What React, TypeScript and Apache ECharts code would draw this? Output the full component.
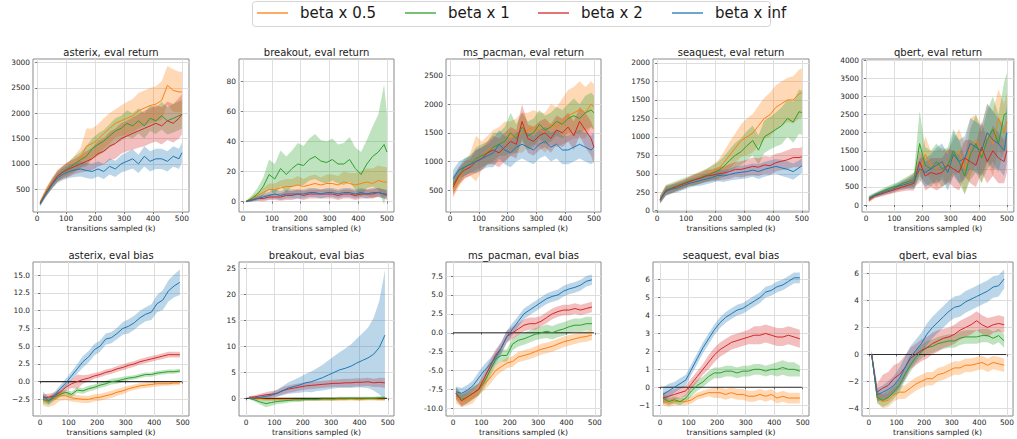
import React, { useEffect, useRef } from "react";
import * as echarts from "echarts";

// ---------- data ----------
const SERIES_NAMES = ["beta x 0.5", "beta x 1", "beta x 2", "beta x inf"];
const COLORS = ["#ff7f0e", "#2ca02c", "#d62728", "#1f77b4"];

const X_TOP = [10, 30, 50, 70, 90, 110, 130, 150, 170, 190, 210, 230, 250, 270, 290, 310, 330, 350, 370, 390, 410, 430, 450, 470, 490, 500];
const X_BOT = [10, 30, 50, 70, 90, 110, 130, 150, 170, 190, 210, 230, 250, 270, 290, 310, 330, 350, 370, 390, 410, 430, 450, 470, 490];
const X_TICKS = [0, 100, 200, 300, 400, 500];

// asterix, eval return  (orange, green, red, blue)
const asterixRetMean = [
  [230, 450, 620, 760, 840, 900, 1000, 1120, 1350, 1400, 1480, 1600, 1700, 1800, 1850, 1900, 1950, 2050, 2100, 2150, 2180, 2250, 2550, 2450, 2420, 2420],
  [230, 430, 600, 750, 850, 920, 1000, 1080, 1150, 1300, 1380, 1450, 1550, 1650, 1700, 1800, 1750, 1850, 1750, 1900, 1850, 1950, 1850, 1900, 1950, 1980],
  [220, 420, 600, 760, 840, 900, 950, 1000, 1050, 1100, 1200, 1250, 1350, 1400, 1500, 1550, 1600, 1650, 1700, 1750, 1800, 1750, 1850, 1800, 1900, 1980],
  [200, 400, 580, 720, 800, 850, 880, 900, 870, 850, 900, 850, 950, 900, 1000, 1050, 1100, 1000, 1150, 1050, 1100, 1100, 1050, 1150, 1100, 1220],
];
const asterixRetSpread = [
  [50, 80, 100, 120, 130, 150, 170, 200, 350, 300, 300, 300, 300, 280, 300, 320, 330, 350, 350, 350, 350, 380, 380, 420, 400, 400],
  [40, 70, 90, 100, 110, 120, 150, 150, 200, 200, 220, 220, 230, 250, 250, 260, 250, 250, 250, 250, 260, 270, 270, 280, 280, 280],
  [40, 70, 90, 110, 130, 150, 150, 170, 200, 220, 250, 260, 280, 300, 300, 300, 320, 330, 350, 350, 360, 370, 380, 380, 400, 400],
  [40, 60, 80, 100, 120, 130, 140, 150, 150, 150, 150, 150, 160, 160, 170, 180, 190, 180, 200, 200, 200, 200, 200, 200, 200, 200],
];

// breakout, eval return
const breakoutRetMean = [
  [0, 2, 4, 6, 8, 8, 9, 10, 10, 11, 10, 11, 12, 11, 12, 12, 11, 13, 12, 11, 12, 13, 12, 14, 13, 13],
  [0, 2, 5, 10, 18, 15, 22, 18, 22, 25, 24, 28, 30, 27, 26, 28, 25, 25, 28, 22, 18, 25, 30, 33, 38, 33],
  [0, 1, 2, 2, 3, 3, 3, 4, 4, 5, 4, 5, 5, 5, 5, 5, 4, 5, 5, 4, 5, 5, 5, 6, 5, 4],
  [0, 1, 2, 3, 4, 5, 4, 5, 5, 5, 5, 6, 6, 5, 6, 6, 5, 6, 6, 5, 6, 5, 6, 6, 5, 5],
];
const breakoutRetSpread = [
  [0.5, 1.5, 2, 3, 4, 4, 5, 5, 5, 6, 5, 6, 6, 5, 6, 6, 6, 7, 7, 8, 8, 9, 10, 10, 10, 10],
  [0.5, 2, 4, 6, 10, 10, 12, 12, 12, 14, 13, 14, 15, 14, 14, 14, 13, 14, 15, 14, 15, 16, 20, 25, 40, 25],
  [0.5, 1, 1.5, 2, 2, 2, 2.5, 3, 3, 3, 3, 3, 3, 3, 3, 3, 3, 3, 3, 3, 3, 3, 3, 3, 3, 3],
  [0.5, 1, 1.5, 2, 2.5, 3, 3, 3, 3, 3, 3, 3, 3, 3, 3, 3, 3, 3, 3, 3, 3, 3, 3, 3, 3, 3],
];

// ms_pacman, eval return
const pacmanRetMean = [
  [520, 700, 850, 950, 1050, 1100, 1200, 1250, 1300, 1350, 1400, 1450, 1500, 1550, 1600, 1550, 1500, 1650, 1600, 1700, 1800, 1850, 1900, 1850, 2000, 1950],
  [600, 750, 900, 950, 1050, 1100, 1150, 1250, 1300, 1350, 1500, 1400, 1600, 1450, 1500, 1650, 1550, 1600, 1700, 1650, 1750, 1800, 1750, 1850, 1900, 1850],
  [550, 750, 850, 900, 1000, 1050, 1150, 1200, 1150, 1250, 1350, 1300, 1700, 1400, 1350, 1450, 1500, 1400, 1550, 1500, 1600, 1450, 1700, 1550, 1400, 1250],
  [700, 850, 900, 950, 1000, 1050, 1100, 1150, 1300, 1200, 1150, 1250, 1300, 1250, 1200, 1300, 1350, 1250, 1300, 1200, 1200, 1250, 1300, 1250, 1200, 1250],
];
const pacmanRetSpread = [
  [150, 150, 150, 200, 400, 250, 250, 300, 300, 350, 300, 300, 350, 300, 300, 300, 350, 350, 350, 400, 450, 450, 500, 450, 400, 400],
  [150, 150, 150, 150, 200, 200, 200, 250, 200, 250, 350, 250, 250, 250, 250, 250, 250, 250, 250, 250, 250, 300, 250, 300, 300, 300],
  [150, 150, 150, 150, 200, 200, 200, 250, 250, 250, 250, 250, 300, 250, 250, 250, 250, 250, 250, 250, 250, 250, 250, 300, 300, 300],
  [150, 150, 150, 150, 200, 200, 200, 250, 250, 250, 250, 250, 250, 250, 250, 250, 250, 250, 250, 250, 250, 250, 250, 250, 250, 250],
];

// seaquest, eval return
const seaquestRetMean = [
  [150, 280, 300, 330, 350, 400, 420, 450, 480, 520, 560, 650, 750, 850, 950, 1000, 1050, 1150, 1250, 1300, 1400, 1450, 1500, 1500, 1580, 1600],
  [150, 280, 310, 340, 370, 400, 420, 450, 480, 510, 540, 600, 680, 750, 800, 880, 950, 820, 1000, 1050, 1100, 1150, 1250, 1200, 1340, 1330],
  [150, 270, 300, 330, 360, 390, 420, 440, 470, 480, 500, 510, 530, 560, 560, 580, 600, 590, 620, 610, 650, 670, 690, 720, 720, 730],
  [140, 260, 290, 310, 340, 370, 390, 410, 430, 450, 480, 470, 490, 510, 520, 530, 550, 530, 560, 580, 600, 580, 560, 530, 580, 610],
];
const seaquestRetSpread = [
  [60, 70, 60, 60, 60, 60, 70, 80, 80, 100, 120, 150, 180, 200, 220, 250, 260, 270, 280, 300, 300, 300, 300, 320, 330, 330],
  [50, 70, 70, 70, 70, 70, 80, 80, 90, 100, 120, 130, 150, 170, 180, 200, 200, 200, 220, 220, 230, 250, 250, 280, 300, 300],
  [50, 60, 60, 60, 60, 60, 70, 70, 80, 80, 90, 90, 100, 100, 110, 110, 120, 120, 120, 120, 120, 120, 130, 130, 130, 130],
  [40, 60, 60, 60, 60, 60, 60, 70, 70, 70, 80, 80, 80, 90, 90, 90, 90, 100, 100, 100, 100, 110, 110, 110, 100, 100],
];

// qbert, eval return
const qbertRetMean = [
  [150, 250, 320, 380, 420, 480, 550, 620, 700, 900, 1400, 1100, 1000, 1200, 1000, 1300, 1500, 1000, 1600, 1800, 1400, 2000, 1700, 2400, 2000, 2300],
  [200, 280, 350, 420, 480, 520, 600, 650, 700, 1700, 1100, 1000, 1200, 1000, 1100, 1500, 1200, 800, 1400, 1700, 1300, 1800, 2100, 1700, 2500, 2550],
  [130, 250, 300, 350, 400, 450, 500, 550, 600, 1200, 800, 900, 850, 900, 1100, 1000, 900, 1300, 1200, 1100, 1600, 1200, 1500, 1300, 1200, 1500],
  [180, 260, 320, 380, 420, 500, 550, 600, 650, 1000, 900, 1000, 1100, 1200, 900, 1400, 1200, 1300, 1700, 1600, 1500, 2000, 1800, 1700, 1500, 2000],
];
const qbertRetSpread = [
  [60, 60, 70, 80, 90, 100, 120, 150, 200, 300, 500, 400, 500, 400, 500, 500, 600, 700, 800, 700, 800, 800, 900, 800, 800, 800],
  [60, 60, 70, 80, 90, 100, 120, 150, 200, 900, 500, 500, 500, 500, 500, 600, 600, 500, 700, 800, 700, 800, 900, 800, 900, 1100],
  [60, 60, 70, 80, 90, 100, 120, 150, 200, 300, 400, 400, 450, 400, 450, 500, 500, 500, 600, 600, 700, 600, 700, 700, 600, 600],
  [60, 60, 70, 80, 90, 100, 120, 150, 200, 300, 400, 400, 500, 500, 500, 600, 600, 600, 700, 700, 700, 800, 800, 700, 700, 800],
];

// asterix, eval bias
const asterixBiasMean = [
  [-2.7, -2.8, -2.5, -2.0, -2.0, -2.3, -2.4, -2.5, -2.5, -2.3, -2.2, -2.0, -1.8, -1.5, -1.3, -1.0, -0.8, -0.6, -0.5, -0.4, -0.3, -0.3, -0.3, -0.2, -0.2],
  [-2.5, -2.8, -2.2, -1.8, -1.5, -1.8, -1.2, -1.3, -1.0, -0.8, -0.5, -0.3, 0.0, 0.1, 0.3, 0.5, 0.6, 0.8, 1.0, 1.0, 1.2, 1.3, 1.4, 1.4, 1.5],
  [-2.3, -2.2, -2.0, -1.5, -0.8, -0.3, 0.0, 0.3, 0.5, 0.8, 1.0, 1.3, 1.5, 1.8, 2.0, 2.3, 2.5, 2.8, 3.0, 3.2, 3.4, 3.6, 3.8, 3.8, 3.8],
  [-2.0, -2.7, -2.0, -1.0, -0.2, 0.8, 1.8, 2.8, 3.5, 4.5, 5.0, 6.0, 6.2, 6.8, 7.5, 7.8, 8.3, 9.0, 9.5, 9.8, 11.0, 11.5, 12.8, 13.5, 14.0],
];
const asterixBiasSpread = [
  [0.7, 0.8, 0.8, 0.7, 0.6, 0.5, 0.5, 0.5, 0.5, 0.5, 0.5, 0.5, 0.5, 0.5, 0.5, 0.4, 0.4, 0.4, 0.4, 0.4, 0.4, 0.3, 0.3, 0.3, 0.3],
  [0.6, 0.5, 0.5, 0.4, 0.4, 0.4, 0.4, 0.4, 0.4, 0.4, 0.4, 0.4, 0.4, 0.4, 0.4, 0.3, 0.3, 0.3, 0.3, 0.3, 0.3, 0.3, 0.3, 0.3, 0.3],
  [0.5, 0.5, 0.5, 0.5, 0.5, 0.6, 1.0, 0.6, 0.5, 0.4, 0.4, 0.4, 0.4, 0.4, 0.4, 0.4, 0.4, 0.4, 0.4, 0.4, 0.4, 0.4, 0.4, 0.4, 0.4],
  [0.6, 0.5, 0.5, 0.5, 0.6, 0.6, 0.7, 0.8, 0.8, 0.8, 0.8, 0.8, 0.8, 0.8, 0.9, 1.0, 1.0, 1.0, 1.0, 1.1, 1.2, 1.4, 1.5, 1.6, 1.8],
];

// breakout, eval bias
const breakoutBiasMean = [
  [0, -0.1, -0.1, -0.2, -0.2, -0.2, -0.2, -0.2, -0.2, -0.2, -0.2, -0.2, -0.2, -0.2, -0.2, -0.2, -0.2, -0.2, -0.1, -0.2, -0.2, -0.1, -0.1, -0.2, -0.2],
  [0, -0.3, -0.7, -1.0, -0.8, -0.6, -0.5, -0.4, -0.3, -0.3, -0.2, -0.2, -0.2, -0.1, -0.1, -0.1, 0, 0, 0, 0, 0, 0, 0, 0.1, 0.1],
  [0.2, 0.3, 0.5, 0.7, 0.8, 1.0, 1.5, 1.8, 2.0, 2.2, 2.4, 2.5, 2.6, 2.7, 2.8, 2.9, 2.9, 3.0, 3.0, 3.1, 3.1, 3.2, 3.0, 3.1, 3.0],
  [0, 0.1, 0.2, 0.4, 0.6, 1.0, 1.5, 2.0, 2.3, 2.6, 3.0, 3.2, 3.6, 4.0, 4.5, 5.0, 5.5, 5.8, 6.2, 6.8, 7.3, 7.8, 8.5, 9.8, 12.2],
];
const breakoutBiasSpread = [
  [0.1, 0.2, 0.3, 0.3, 0.3, 0.3, 0.3, 0.3, 0.3, 0.3, 0.3, 0.3, 0.3, 0.3, 0.3, 0.3, 0.3, 0.3, 0.3, 0.3, 0.3, 0.3, 0.3, 0.3, 0.3],
  [0.1, 0.3, 0.5, 0.7, 0.6, 0.5, 0.5, 0.4, 0.4, 0.4, 0.3, 0.3, 0.3, 0.3, 0.3, 0.3, 0.3, 0.3, 0.3, 0.3, 0.3, 0.3, 0.3, 0.3, 0.3],
  [0.2, 0.3, 0.4, 0.5, 0.6, 0.6, 0.7, 0.7, 0.7, 0.7, 0.7, 0.7, 0.7, 0.7, 0.7, 0.7, 0.8, 0.8, 0.8, 0.8, 0.8, 0.8, 0.8, 0.9, 1.0],
  [0.1, 0.2, 0.3, 0.4, 0.5, 0.7, 0.9, 1.1, 1.3, 1.5, 1.7, 2.0, 2.2, 2.5, 2.8, 3.1, 3.4, 3.8, 4.2, 4.7, 5.2, 5.8, 7.0, 9.0, 12.5],
];

// ms_pacman, eval bias
const pacmanBiasMean = [
  [-8.5, -9.0, -8.8, -8.5, -7.5, -6.8, -6.0, -5.0, -4.5, -4.0, -3.8, -3.2, -3.0, -2.8, -2.5, -2.2, -2.0, -1.8, -1.5, -1.2, -1.0, -0.8, -0.6, -0.5, -0.3],
  [-8.0, -8.8, -8.5, -8.0, -7.5, -6.5, -5.0, -3.5, -3.0, -3.0, -1.5, -1.0, -0.8, -0.5, -0.2, 0.0, 0.2, 0.0, 0.3, 0.5, 0.8, 1.0, 1.0, 1.2, 1.2],
  [-8.0, -9.0, -8.5, -8.0, -7.5, -6.0, -4.5, -3.0, -2.0, -0.5, 0.0, 0.5, 1.0, 1.2, 1.2, 1.5, 2.0, 2.5, 2.8, 3.0, 3.0, 3.2, 3.0, 3.2, 3.4],
  [-7.8, -8.0, -7.6, -7.0, -6.0, -5.0, -4.2, -3.3, -2.0, -0.5, 0.5, 1.5, 2.5, 3.0, 3.5, 4.0, 4.5, 4.8, 5.0, 5.5, 5.8, 6.0, 6.3, 6.8, 7.0],
];
const pacmanBiasSpread = [
  [0.8, 0.8, 0.8, 0.8, 0.8, 0.8, 0.8, 0.8, 0.7, 0.7, 0.7, 0.7, 0.7, 0.7, 0.7, 0.7, 0.7, 0.7, 0.7, 0.7, 0.7, 0.7, 0.7, 0.7, 0.7],
  [0.8, 0.8, 0.8, 0.8, 0.8, 0.8, 0.8, 0.8, 0.8, 0.8, 0.8, 0.8, 0.8, 0.8, 0.8, 0.8, 0.9, 0.9, 0.9, 0.9, 0.9, 0.9, 0.9, 0.9, 0.9],
  [0.8, 0.8, 0.8, 0.8, 0.8, 0.8, 0.8, 0.8, 0.7, 0.8, 0.8, 0.8, 0.8, 0.8, 0.8, 0.7, 0.7, 0.7, 0.7, 0.7, 0.7, 0.7, 0.7, 0.7, 0.7],
  [0.7, 0.7, 0.7, 0.7, 0.8, 0.8, 0.8, 0.8, 0.8, 0.8, 0.8, 0.7, 0.7, 0.7, 0.7, 0.7, 0.7, 0.7, 0.7, 0.7, 0.7, 0.7, 0.7, 0.7, 0.7],
];

// seaquest, eval bias
const seaquestBiasMean = [
  [-0.7, -0.9, -0.8, -0.8, -0.8, -0.7, -0.5, -0.4, -0.3, -0.3, -0.3, -0.4, -0.3, -0.4, -0.4, -0.5, -0.5, -0.4, -0.5, -0.4, -0.6, -0.5, -0.6, -0.6, -0.6],
  [-0.6, -0.8, -0.7, -0.8, -0.6, -0.2, 0.1, 0.3, 0.6, 0.8, 0.8, 0.9, 0.9, 0.8, 0.9, 0.9, 1.0, 1.0, 0.9, 1.0, 1.0, 1.1, 1.0, 1.0, 0.9],
  [-0.6, -0.5, -0.4, -0.3, -0.2, 0.2, 0.6, 1.0, 1.4, 1.8, 2.1, 2.3, 2.5, 2.6, 2.7, 2.8, 2.9, 2.9, 3.0, 2.9, 2.8, 2.8, 2.9, 2.8, 2.7],
  [-0.4, -0.2, 0.0, 0.2, 0.4, 1.0, 1.6, 2.2, 2.7, 3.2, 3.6, 3.9, 4.1, 4.3, 4.4, 4.6, 4.8, 5.0, 5.3, 5.4, 5.6, 5.7, 5.9, 6.1, 6.1],
];
const seaquestBiasSpread = [
  [0.3, 0.2, 0.2, 0.2, 0.2, 0.2, 0.2, 0.2, 0.2, 0.3, 0.3, 0.3, 0.3, 0.3, 0.3, 0.3, 0.3, 0.3, 0.3, 0.3, 0.3, 0.3, 0.3, 0.3, 0.3],
  [0.3, 0.2, 0.2, 0.2, 0.2, 0.3, 0.3, 0.3, 0.3, 0.3, 0.3, 0.3, 0.3, 0.3, 0.3, 0.3, 0.3, 0.3, 0.3, 0.3, 0.4, 0.4, 0.4, 0.4, 0.3],
  [0.3, 0.3, 0.3, 0.3, 0.3, 0.3, 0.3, 0.3, 0.4, 0.4, 0.4, 0.4, 0.4, 0.4, 0.4, 0.4, 0.5, 0.5, 0.5, 0.5, 0.5, 0.5, 0.5, 0.5, 0.5],
  [0.4, 0.4, 0.3, 0.3, 0.3, 0.3, 0.3, 0.3, 0.3, 0.3, 0.3, 0.3, 0.3, 0.3, 0.3, 0.3, 0.3, 0.3, 0.3, 0.3, 0.3, 0.3, 0.3, 0.3, 0.3],
];

// qbert, eval bias
const qbertBiasMean = [
  [0.0, -3.2, -3.5, -3.4, -3.0, -2.8, -2.8, -2.5, -2.2, -2.0, -1.8, -1.8, -1.5, -1.4, -1.2, -1.0, -1.0, -0.8, -0.8, -0.7, -0.6, -0.8, -0.6, -0.7, -0.8],
  [0.0, -3.2, -3.4, -3.2, -2.8, -2.3, -1.5, -0.8, -0.2, 0.2, 0.5, 0.6, 0.8, 0.9, 1.0, 1.0, 1.2, 1.3, 1.3, 1.3, 1.4, 1.4, 1.2, 1.4, 1.0],
  [0.0, -2.8, -2.5, -2.3, -1.8, -1.5, -1.0, -0.3, 0.0, 0.3, 0.5, 0.8, 1.0, 1.2, 1.3, 1.5, 1.8, 2.0, 2.2, 2.5, 2.2, 2.0, 2.2, 2.3, 2.2],
  [0.0, -3.0, -2.8, -2.6, -2.3, -1.8, -1.0, -0.2, 0.3, 0.8, 1.5, 2.0, 2.4, 2.8, 3.2, 3.5, 3.6, 3.9, 4.1, 4.3, 4.5, 4.7, 5.0, 5.1, 5.6],
];
const qbertBiasSpread = [
  [0.2, 0.4, 0.5, 0.5, 0.5, 0.5, 0.5, 0.5, 0.5, 0.5, 0.5, 0.5, 0.5, 0.5, 0.5, 0.5, 0.5, 0.5, 0.5, 0.5, 0.5, 0.5, 0.5, 0.5, 0.5],
  [0.2, 0.4, 0.5, 0.5, 0.5, 0.5, 0.5, 0.5, 0.5, 0.5, 0.5, 0.5, 0.5, 0.5, 0.5, 0.5, 0.5, 0.5, 0.5, 0.5, 0.5, 0.5, 0.5, 0.5, 0.5],
  [0.3, 0.6, 1.0, 1.0, 1.0, 0.9, 0.9, 0.8, 0.8, 0.8, 0.8, 0.8, 0.8, 0.7, 0.7, 0.7, 0.7, 0.7, 0.7, 0.7, 0.7, 0.7, 0.6, 0.6, 0.6],
  [0.3, 0.5, 0.5, 0.6, 0.7, 0.8, 0.8, 0.8, 0.8, 0.8, 0.8, 0.8, 0.8, 0.8, 0.8, 0.8, 0.8, 0.8, 0.8, 0.8, 0.8, 0.8, 0.8, 0.8, 0.7],
];

// axis tick labels
const TICKS_ASTERIX_RET = [500, 1000, 1500, 2000, 2500, 3000];
const TICKS_BREAKOUT_RET = [0, 20, 40, 60, 80];
const TICKS_PACMAN_RET = [500, 1000, 1500, 2000, 2500];
const TICKS_SEAQUEST_RET = [0, 250, 500, 750, 1000, 1250, 1500, 1750, 2000];
const TICKS_QBERT_RET = [0, 500, 1000, 1500, 2000, 2500, 3000, 3500, 4000];
const TICKS_ASTERIX_BIAS = [-2.5, 0, 2.5, 5, 7.5, 10, 12.5, 15];
const TICKS_BREAKOUT_BIAS = [0, 5, 10, 15, 20, 25];
const TICKS_PACMAN_BIAS = [-10, -7.5, -5, -2.5, 0, 2.5, 5, 7.5];
const TICKS_SEAQUEST_BIAS = [-1, 0, 1, 2, 3, 4, 5, 6];
const TICKS_QBERT_BIAS = [-4, -2, 0, 2, 4, 6];

// ---------- layout ----------
const FONT = "DejaVu Sans";
const LEFTS = [33, 239, 446, 653, 862];
const WIDTHS = [156, 155, 155, 156, 152];
const ROW_TOP = [59, 262];
const ROW_H = [153, 154];
const ROW_X = [[-14.5, 524.5], [-25, 522]];
const TITLE_Y = [52, 255];

type Panel = {
  title: string; row: number; col: number; xs: number[];
  mean: number[][]; spread: number[][];
  min: number; max: number; ticks: number[]; dec: number; hyphen?: boolean; zero?: boolean;
};

const PANELS: Panel[] = [
  { title: "asterix, eval return", row: 0, col: 0, xs: X_TOP, mean: asterixRetMean, spread: asterixRetSpread, min: 50, max: 3070, ticks: TICKS_ASTERIX_RET, dec: 0 },
  { title: "breakout, eval return", row: 0, col: 1, xs: X_TOP, mean: breakoutRetMean, spread: breakoutRetSpread, min: -7, max: 95, ticks: TICKS_BREAKOUT_RET, dec: 0 },
  { title: "ms_pacman, eval return", row: 0, col: 2, xs: X_TOP, mean: pacmanRetMean, spread: pacmanRetSpread, min: 116, max: 2791, ticks: TICKS_PACMAN_RET, dec: 0 },
  { title: "seaquest, eval return", row: 0, col: 3, xs: X_TOP, mean: seaquestRetMean, spread: seaquestRetSpread, min: -17, max: 2054, ticks: TICKS_SEAQUEST_RET, dec: 0 },
  { title: "qbert, eval return", row: 0, col: 4, xs: X_TOP, mean: qbertRetMean, spread: qbertRetSpread, min: -193, max: 4039, ticks: TICKS_QBERT_RET, dec: 0 },
  { title: "asterix, eval bias", row: 1, col: 0, xs: X_BOT, mean: asterixBiasMean, spread: asterixBiasSpread, min: -4.85, max: 16.87, ticks: TICKS_ASTERIX_BIAS, dec: 1, zero: true },
  { title: "breakout, eval bias", row: 1, col: 1, xs: X_BOT, mean: breakoutBiasMean, spread: breakoutBiasSpread, min: -3.4, max: 26.3, ticks: TICKS_BREAKOUT_BIAS, dec: 0, zero: true },
  { title: "ms_pacman, eval bias", row: 1, col: 2, xs: X_BOT, mean: pacmanBiasMean, spread: pacmanBiasSpread, min: -11.0, max: 9.35, ticks: TICKS_PACMAN_BIAS, dec: 1, hyphen: true, zero: true },
  { title: "seaquest, eval bias", row: 1, col: 3, xs: X_BOT, mean: seaquestBiasMean, spread: seaquestBiasSpread, min: -1.6, max: 6.98, ticks: TICKS_SEAQUEST_BIAS, dec: 0, zero: true },
  { title: "qbert, eval bias", row: 1, col: 4, xs: X_BOT, mean: qbertBiasMean, spread: qbertBiasSpread, min: -4.57, max: 6.86, ticks: TICKS_QBERT_BIAS, dec: 0, zero: true },
];

function buildOption() {
  const grid: any[] = [];
  const xAxis: any[] = [];
  const yAxis: any[] = [];
  const series: any[] = [];
  const graphic: any[] = [];

  PANELS.forEach((p, gi) => {
    const left = LEFTS[p.col];
    const width = WIDTHS[p.col];
    const top = ROW_TOP[p.row];
    const height = ROW_H[p.row];
    grid.push({ left, top, width, height, show: true, borderColor: "#8a8a8a", borderWidth: 1, backgroundColor: "transparent" });
    xAxis.push({
      gridIndex: gi, type: "value", min: ROW_X[p.row][0], max: ROW_X[p.row][1],
      name: "transitions sampled (k)", nameLocation: "middle", nameGap: 12,
      nameTextStyle: { fontSize: 7.7, color: "#222", fontFamily: FONT },
      axisLine: { show: false },
      axisTick: { show: true, customValues: X_TICKS, length: 2, lineStyle: { color: "#555", width: 0.8 } },
      axisLabel: { customValues: X_TICKS, fontSize: 7.4, color: "#262626", fontFamily: FONT, margin: 3 },
      splitLine: { show: true, lineStyle: { color: "#dedede", width: 1 } },
    });
    const fmt = (v: number) => {
      const s = v.toFixed(p.dec);
      return p.hyphen ? s : s.replace("-", "\u2212");
    };
    yAxis.push({
      gridIndex: gi, type: "value", min: p.min, max: p.max,
      axisLine: { show: false },
      axisTick: { show: true, customValues: p.ticks, length: 2, lineStyle: { color: "#555", width: 0.8 } },
      axisLabel: { customValues: p.ticks, fontSize: 7.4, color: "#262626", fontFamily: FONT, margin: 3, formatter: fmt },
      splitLine: { show: true, lineStyle: { color: "#dedede", width: 1 } },
    });
    graphic.push({
      type: "text", x: left + width / 2, y: TITLE_Y[p.row], silent: true,
      style: { text: p.title, fontSize: 10, fontFamily: FONT, fill: "#1a1a1a", textAlign: "center", textVerticalAlign: "middle" },
    });

    if (p.zero) {
      series.push({
        type: "line", xAxisIndex: gi, yAxisIndex: gi, data: [[0, 0], [497, 0]],
        showSymbol: false, silent: true, lineStyle: { color: "#111", width: 1.1, opacity: 0.85 },
      });
    }
    p.mean.forEach((m, si) => {
      const sp = p.spread[si];
      const xs = p.xs;
      const color = COLORS[si];
      series.push({
        type: "custom", name: SERIES_NAMES[si], xAxisIndex: gi, yAxisIndex: gi, silent: true,
        data: [[xs[0], m[0]]],
        renderItem: (_params: any, api: any) => {
          const upper = xs.map((x, i) => api.coord([x, m[i] + sp[i]]));
          const lower = xs.map((x, i) => api.coord([x, m[i] - sp[i]])).reverse();
          return { type: "polygon", shape: { points: upper.concat(lower) }, style: { fill: color, opacity: 0.3 } };
        },
      });
      series.push({
        type: "line", name: SERIES_NAMES[si], xAxisIndex: gi, yAxisIndex: gi,
        data: xs.map((x, i) => [x, m[i]]), showSymbol: false, silent: true,
        lineStyle: { color, width: 1 }, itemStyle: { color },
      });
    });
  });

  // legend box
  const legendY = 13;
  const items = [
    { x1: 257, x2: 288, tx: 300 },
    { x1: 405, x2: 436, tx: 448 },
    { x1: 538, x2: 569, tx: 581 },
    { x1: 672, x2: 703, tx: 715 },
  ];
  graphic.push({
    type: "rect", shape: { x: 252.5, y: 1.5, width: 518, height: 25, r: 3 }, silent: true,
    style: { fill: "#fff", stroke: "#d4d4d4", lineWidth: 1 },
  });
  items.forEach((it, i) => {
    graphic.push({ type: "line", silent: true, shape: { x1: it.x1, y1: legendY, x2: it.x2, y2: legendY }, style: { stroke: COLORS[i], lineWidth: 1.3 } });
    graphic.push({
      type: "text", x: it.tx, y: legendY, silent: true,
      style: { text: SERIES_NAMES[i], fontSize: 15, fontFamily: FONT, fill: "#1a1a1a", textAlign: "left", textVerticalAlign: "middle" },
    });
  });

  return { animation: false, backgroundColor: "#ffffff", grid, xAxis, yAxis, series, graphic };
}

export default function App() {
  const ref = useRef<HTMLDivElement>(null);
  useEffect(() => {
    if (!ref.current) return;
    const chart = echarts.init(ref.current, undefined, { renderer: "svg" });
    chart.setOption(buildOption() as any);
    return () => chart.dispose();
  }, []);
  return <div ref={ref} style={{ position: "absolute", left: 0, top: 0, width: 1017, height: 439, background: "#fff" }} />;
}
